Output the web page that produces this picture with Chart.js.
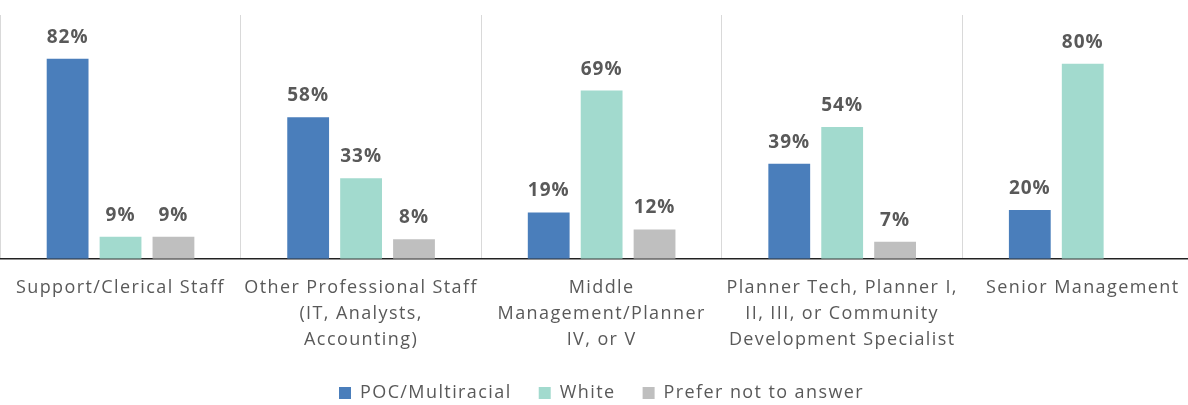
<!DOCTYPE html>
<html>
<head>
<meta charset="utf-8">
<script src="https://cdn.jsdelivr.net/npm/chart.js@4"></script>
<style>
  html, body { margin: 0; padding: 0; background: #fff; overflow: hidden; }
  #wrap { width: 1203px; height: 405px; }
</style>
</head>
<body>
<div id="wrap"><canvas id="staffChart" width="1203" height="405"></canvas></div>
<script>
// categories and series
const categories = [
  'Support/Clerical Staff',
  ['Other Professional Staff', '(IT, Analysts,', 'Accounting)'],
  ['Middle', 'Management/Planner', 'IV, or V'],
  ['Planner Tech, Planner I,', 'II, III, or Community', 'Development Specialist'],
  'Senior Management'
];
const pocValues = [82, 58, 19, 39, 20];
const whiteValues = [9, 33, 69, 54, 80];
const preferNotValues = [9, 8, 12, 7, null];

const textGray = '#595959';
const fontFamily = '"Open Sans", "Noto Sans", sans-serif';

// the original text is a bit more spread out than Open Sans
const spacing = {
  id: 'spacing',
  beforeUpdate(chart) { chart.ctx.letterSpacing = '1.4px'; },
  beforeDraw(chart) { chart.ctx.letterSpacing = '1.4px'; }
};

// simple value labels above each bar
const barLabels = {
  id: 'barLabels',
  afterDatasetsDraw(chart) {
    const ctx = chart.ctx;
    ctx.save();
    ctx.letterSpacing = '1px';
    ctx.font = 'bold 19px ' + fontFamily;
    ctx.fillStyle = textGray;
    ctx.textAlign = 'center';
    ctx.textBaseline = 'alphabetic';
    chart.data.datasets.forEach((ds, i) => {
      chart.getDatasetMeta(i).data.forEach((bar, j) => {
        const v = ds.data[j];
        if (v == null) return;
        ctx.fillText(v + '%', bar.x, bar.y - 16);
      });
    });
    ctx.restore();
  }
};

new Chart(document.getElementById('staffChart'), {
  type: 'bar',
  data: {
    labels: categories,
    datasets: [
      { label: 'POC/Multiracial', data: pocValues, backgroundColor: '#4a7ebb' },
      { label: 'White', data: whiteValues, backgroundColor: '#a2dace' },
      { label: 'Prefer not to answer', data: preferNotValues, backgroundColor: '#bfbfbf' }
    ]
  },
  options: {
    responsive: false,
    animation: false,
    devicePixelRatio: 1,
    categoryPercentage: 0.66,
    barPercentage: 0.79,
    layout: { padding: { top: 15, left: 0, right: 0, bottom: -7 } },
    plugins: {
      legend: {
        position: 'bottom',
        labels: {
          boxWidth: 12,
          boxHeight: 12,
          padding: 15,
          color: textGray,
          font: { family: fontFamily, size: 18 },
          // wider gaps between legend entries
          generateLabels(chart) {
            const items = Chart.defaults.plugins.legend.labels.generateLabels(chart);
            items.forEach((it, i) => { if (i < items.length - 1) it.text += '  '; });
            return items;
          }
        }
      },
      tooltip: { enabled: false }
    },
    scales: {
      x: {
        grid: {
          color: '#d9d9d9',
          lineWidth: 1,
          drawTicks: false,
          offset: true
        },
        border: { display: true, color: '#222', width: 1.5 },
        ticks: {
          color: textGray,
          font: { family: fontFamily, size: 18, lineHeight: 1.45 },
          maxRotation: 0,
          autoSkip: false,
          padding: 16
        }
      },
      y: {
        display: false,
        min: 0,
        max: 100
      }
    }
  },
  plugins: [spacing, barLabels]
});
</script>
</body>
</html>
